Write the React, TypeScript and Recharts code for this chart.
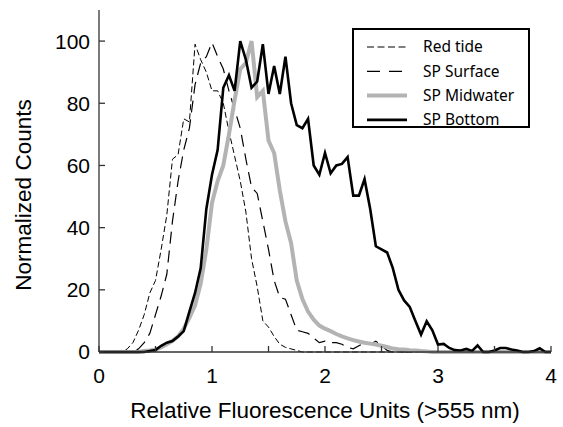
import React from 'react';
import { LineChart, Line, XAxis, YAxis, Legend, Label } from 'recharts';

// x grid of the histogram bins (Relative Fluorescence Units)
const xValues = [
  0, 0.05, 0.1, 0.15, 0.2, 0.25, 0.3, 0.35, 0.4, 0.45,
  0.5, 0.55, 0.6, 0.65, 0.7, 0.75, 0.8, 0.85, 0.9, 0.95,
  1, 1.05, 1.1, 1.15, 1.2, 1.25, 1.3, 1.35, 1.4, 1.45,
  1.5, 1.55, 1.6, 1.65, 1.7, 1.75, 1.8, 1.85, 1.9, 1.95,
  2, 2.05, 2.1, 2.15, 2.2, 2.25, 2.3, 2.35, 2.4, 2.45,
  2.5, 2.55, 2.6, 2.65, 2.7, 2.75, 2.8, 2.85, 2.9, 2.95,
  3, 3.05, 3.1, 3.15, 3.2, 3.25, 3.3, 3.35, 3.4, 3.45,
  3.5, 3.55, 3.6, 3.65, 3.7, 3.75, 3.8, 3.85, 3.9, 3.95,
  4,
];

const redTide = [
  0, 0, 0, 0, 0, 1, 3, 7, 12, 19,
  23, 33, 44, 62, 63.5, 75, 74, 99, 94, 90,
  84, 84, 80, 71, 63, 55, 45, 30, 21, 10,
  8, 5, 2.5, 1.5, 1, 0.5, 0, 0, 0, 0,
  0, 0, 0, 0, 0, 0, 0, 0, 0, 0,
  0, 0, 0, 0, 0, 0, 0, 0, 0, 0,
  0, 0, 0, 0, 0, 0, 0, 0, 0, 0,
  0, 0, 0, 0, 0, 0, 0, 0, 0, 0,
  0,
];

const spSurface = [
  0, 0, 0, 0, 0, 0, 0, 1, 3, 6,
  12, 18, 25, 42, 55, 65, 72, 86, 93, 95,
  99.5, 95, 91, 84, 78, 72, 62, 53, 51, 42,
  33, 23, 17.5, 17, 12, 7, 6.5, 6, 4.5, 3,
  3.5, 3, 3, 2.5, 1.5, 1, 2, 3, 2.5, 3.5,
  2, 0.5, 0, 0, 0, 0, 0, 0, 0, 0,
  0, 0, 0, 0, 0, 0, 0, 0, 0, 0,
  0, 0, 0, 0, 0, 0, 0, 0, 0, 0,
  0,
];

const spMidwater = [
  0, 0, 0, 0, 0, 0, 0, 0, 0.3, 0.5,
  0.8, 1.5, 2.5, 3.6, 5, 7.5, 11, 15, 22, 33,
  48, 55, 60, 70, 81, 91, 93, 100, 82, 84,
  68, 64, 52, 42, 35, 23, 17, 13, 10.4, 8.5,
  7.5, 6.7, 5.8, 5, 4.4, 3.8, 3.4, 3, 2.7, 2.4,
  2, 1.6, 1.1, 0.9, 0.8, 0.6, 0.5, 0.3, 0.2, 0,
  0, 0, 0, 0, 0, 0, 0, 0, 0, 0,
  0, 0, 0, 0, 0, 0, 0, 0, 0, 0,
  0,
];

const spBottom = [
  0, 0, 0, 0, 0, 0, 0, 0, 0, 0.3,
  0.6, 2, 3, 3.5, 5, 6.7, 13, 19, 27, 46,
  57, 65, 85, 89, 84, 100, 94, 85, 87, 99,
  83, 92, 83, 95, 80, 73, 72, 75, 60, 57,
  64, 57.5, 60, 60.5, 62.7, 50.3, 50.3, 55.6, 46, 34,
  33, 32, 27, 20, 16.6, 14.5, 10, 5.6, 9.9, 7,
  2.4, 2.6, 1.3, 0.6, 0.5, 1, 0.3, 2.1, 0, 0,
  0.5, 1.3, 1.3, 0.8, 0.5, 0, 0, 0.3, 1.2, 0,
  0,
];

const xTicks = [0, 0.5, 1, 1.5, 2, 2.5, 3, 3.5, 4];
const yTicks = [0, 20, 40, 60, 80, 100];

const data = xValues.map((x, i) => ({
  x,
  redTide: redTide[i],
  spSurface: spSurface[i],
  spMidwater: spMidwater[i],
  spBottom: spBottom[i],
}));

const series = [
  { key: 'redTide', name: 'Red tide', color: '#000', width: 1, dash: '6 3', legendDash: '7 3.5' },
  { key: 'spSurface', name: 'SP Surface', color: '#000', width: 1.2, dash: '12 7', legendDash: '13 9' },
  { key: 'spMidwater', name: 'SP Midwater', color: '#b3b3b3', width: 4, dash: undefined, legendDash: undefined },
  { key: 'spBottom', name: 'SP Bottom', color: '#000', width: 2.6, dash: undefined, legendDash: undefined },
];

const FONT = '"Liberation Sans", Arial, Helvetica, sans-serif';
const AXIS = '#333';

const renderLegend = () => (
  <div style={{ width: 178, height: 100, border: '2px solid #000', boxSizing: 'border-box', background: '#fff' }}>
    <svg width={174} height={96} style={{ overflow: 'visible', display: 'block' }}>
      {series.map((s, i) => (
        <g key={s.key}>
          <line
            x1={13}
            x2={53}
            y1={17 + i * 24.3}
            y2={17 + i * 24.3}
            stroke={s.color}
            strokeWidth={s.width === 1 ? 1.2 : s.width}
            strokeDasharray={s.legendDash}
          />
          <text x={69} y={17 + i * 24.3} dy="0.35em" fontSize={15.5} fontFamily='"Noto Sans", sans-serif' fill="#000">
            {s.name}
          </text>
        </g>
      ))}
    </svg>
  </div>
);

export default function App() {
  return (
    <div style={{ position: 'absolute', left: 0, top: 0, background: '#fff' }}>
      <LineChart width={563} height={427} data={data} margin={{ top: 10, right: 12, bottom: 0, left: 0 }}>
        <XAxis
          dataKey="x"
          type="number"
          domain={[0, 4]}
          ticks={xTicks}
          tickFormatter={(v: number) => (Number.isInteger(v) ? String(v) : '')}
          height={75}
          tickSize={-6}
          tickMargin={22}
          stroke={AXIS}
          strokeWidth={1.3}
          tick={{ fontSize: 21, fill: '#000', fontFamily: FONT }}
        >
          <Label
            content={() => (
              <text x={325} y={418} textAnchor="middle" fontSize={22.5} fontFamily={FONT} fill="#000">
                Relative Fluorescence Units (&gt;555 nm)
              </text>
            )}
          />
        </XAxis>
        <XAxis
          xAxisId="top"
          orientation="top"
          type="number"
          dataKey="x"
          domain={[0, 4]}
          ticks={xTicks}
          height={0}
          tickSize={-6}
          tickFormatter={() => ''}
          stroke={AXIS}
          strokeWidth={1.3}
        />
        <YAxis
          type="number"
          domain={[0, 110]}
          ticks={yTicks}
          width={99}
          tickSize={-6}
          tickMargin={15}
          stroke={AXIS}
          strokeWidth={1.3}
          tick={{ fontSize: 21, fill: '#000', fontFamily: FONT }}
        >
          <Label
            content={() => (
              <text x={31} y={195} transform="rotate(-90, 31, 195)" textAnchor="middle" fontSize={22.5} fontFamily={FONT} fill="#000">
                Normalized Counts
              </text>
            )}
          />
        </YAxis>
        <YAxis
          yAxisId="right"
          orientation="right"
          type="number"
          domain={[0, 110]}
          ticks={yTicks}
          width={0}
          tickSize={-6}
          tickFormatter={() => ''}
          stroke={AXIS}
          strokeWidth={1.3}
        />
        {series.map((s) => (
          <Line
            key={s.key}
            type="linear"
            dataKey={s.key}
            name={s.name}
            stroke={s.color}
            strokeWidth={s.width}
            strokeDasharray={s.dash}
            dot={false}
            activeDot={false}
            isAnimationActive={false}
          />
        ))}
        <Legend
          layout="horizontal"
          verticalAlign="middle"
          align="center"
          content={renderLegend}
          wrapperStyle={{ left: 352, top: 28, width: 178, height: 100, overflow: 'visible' }}
        />
      </LineChart>
    </div>
  );
}
